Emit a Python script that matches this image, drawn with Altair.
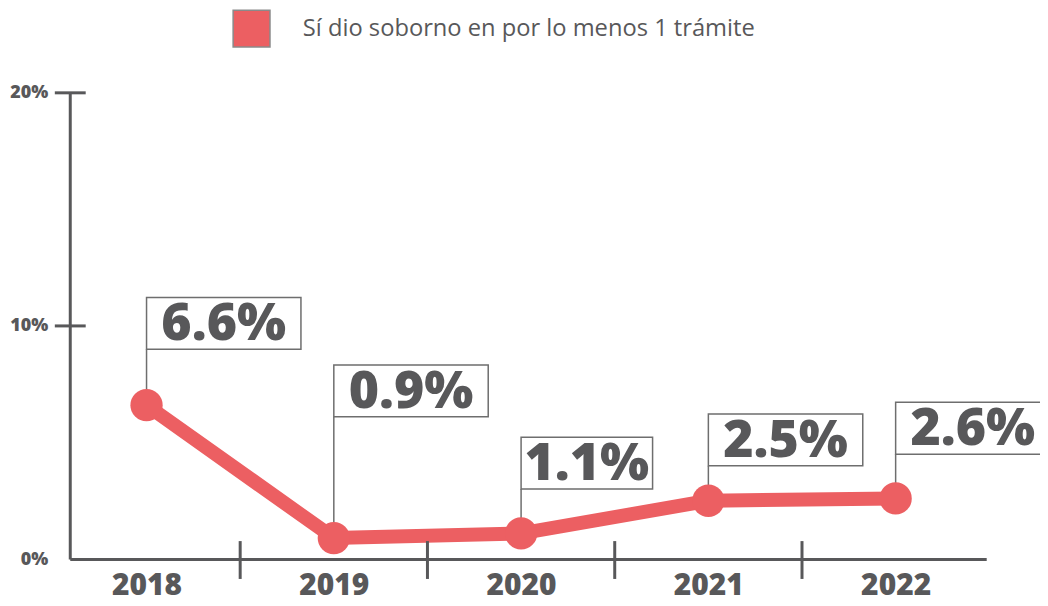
import altair as alt
import pandas as pd

# ---- data ----
years = [2018, 2019, 2020, 2021, 2022]
values = [6.6, 0.9, 1.1, 2.5, 2.6]
labels = ["6.6%", "0.9%", "1.1%", "2.5%", "2.6%"]
label_anchor = [9.0, 6.1, 3.0, 4.0, 4.5]   # height (in %) of the bottom of each label box
series_name = "Sí dio soborno en por lo menos 1 trámite"
y_tick_values = [0, 10, 20]

RED = "#EC5F62"
GRAY = "#58585A"
BOX = "#6E6E6E"
FONT = "Open Sans"

W, H = 920, 468
X_MIN = 2017.590
X_MAX = X_MIN + W / 188
STEP = W / (X_MAX - X_MIN)

char_w = {"1": 22.5, ".": 17, "%": 50}
def box_px(t):
    return 20 + sum(char_w.get(c, 34) for c in t)

df = pd.DataFrame({
    "year": years,
    "value": values,
    "label": labels,
    "anchor": label_anchor,
    "serie": [series_name] * len(years),
})
df["box_end"] = df["year"] + df["label"].map(box_px) / STEP
df["box_mid"] = (df["year"] + df["box_end"]) / 2

mid_df = pd.DataFrame({"mid": [(a + b) / 2 for a, b in zip(years[:-1], years[1:])]})
ytick_df = pd.DataFrame({"v": [v for v in y_tick_values if v > 0]})

xscale = alt.Scale(domain=[X_MIN, X_MAX], nice=False, zero=False)
yscale = alt.Scale(domain=[0, 20], nice=False)

x_axis = alt.Axis(values=years, format="d", ticks=False, title=None, grid=False,
                  labelFontSize=30, labelFontWeight=800, labelColor=GRAY, labelFont=FONT,
                  labelPadding=12, labelFlush=False, labelOverlap=False,
                  domainColor=GRAY, domainWidth=3)
y_axis = alt.Axis(values=y_tick_values, ticks=False, title=None, grid=False,
                  labelExpr="datum.value + '%'",
                  labelFontSize=18, labelFontWeight=800, labelColor=GRAY, labelFont=FONT,
                  labelPadding=22, labelFlush=False, labelOverlap=False,
                  domainColor=GRAY, domainWidth=3)

base = alt.Chart(df)

line = base.mark_line(color=RED, strokeWidth=14).encode(
    x=alt.X("year:Q", scale=xscale, axis=x_axis),
    y=alt.Y("value:Q", scale=yscale, axis=y_axis),
)

leader = base.mark_rule(color=BOX, strokeWidth=1.5).encode(
    x="year:Q", y="value:Q", y2="anchor:Q"
)

points = base.mark_circle(size=1050, opacity=1).encode(
    x="year:Q", y="value:Q",
    color=alt.Color("serie:N", scale=alt.Scale(domain=[series_name], range=[RED]),
                    legend=alt.Legend(orient="none", legendX=163, legendY=-84,
                                      title=None, symbolType="square", symbolSize=1369,
                                      symbolStrokeColor="#8a8a8a", symbolStrokeWidth=1.5,
                                      symbolFillColor=RED, symbolOpacity=1,
                                      labelFontSize=23.8, labelColor=GRAY, labelFont=FONT,
                                      labelLimit=800, labelOffset=32, padding=0)),
)

boxes = base.mark_rect(fill="white", stroke=BOX, strokeWidth=1.5, y2Offset=-52).encode(
    x="year:Q", x2="box_end:Q", y="anchor:Q", y2="anchor:Q"
)

texts = base.mark_text(align="center", baseline="middle", dy=-25,
                       fontSize=52, fontWeight=800, font=FONT, color=GRAY).encode(
    x="box_mid:Q", y="anchor:Q", text="label:N"
)

xticks = alt.Chart(mid_df).mark_rule(color=GRAY, strokeWidth=3).encode(
    x="mid:Q", y=alt.value(H - 18), y2=alt.value(H + 20)
)
yticks = alt.Chart(ytick_df).mark_rule(color=GRAY, strokeWidth=3).encode(
    y="v:Q", x=alt.value(-15), x2=alt.value(16)
)

chart = alt.layer(line, xticks, yticks, leader, points, boxes, texts).properties(
    width=W, height=H,
    background="white",
    autosize=alt.AutoSizeParams(type="none"),
    padding={"left": 62, "top": 84, "right": 54, "bottom": 46},
).configure_view(stroke=None, strokeWidth=0)

chart.save("out.html", embed_options={"renderer": "svg", "actions": False})
